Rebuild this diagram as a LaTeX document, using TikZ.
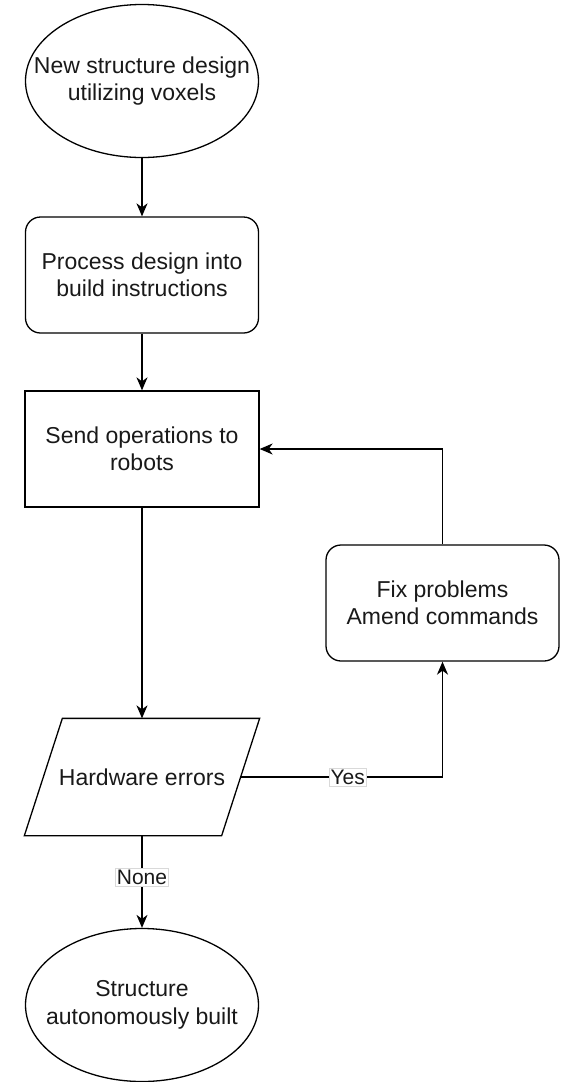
\documentclass[tikz,border=0pt]{standalone}
\usepackage{fontspec}
\setmainfont{Liberation Sans}
\usetikzlibrary{shapes.geometric,arrows.meta}
\begin{document}
\begin{tikzpicture}[x=1pt,y=-1pt,
  base/.style={draw=black, line width=1.3pt, align=center, inner sep=0pt,
    font=\fontsize{23}{27.5}\selectfont, text=black!90},
  txt/.style={align=center, inner sep=0pt, font=\fontsize{23}{27.5}\selectfont, text=black!90},
  term/.style={draw=black, line width=1.3pt, ellipse, inner sep=0pt, minimum width=233pt, minimum height=153pt},
  roundbox/.style={base, rectangle, rounded corners=15pt, minimum width=233pt, minimum height=116pt},
  plainbox/.style={base, rectangle, minimum width=234pt, minimum height=116pt},
  edge/.style={line width=1.3pt},
  conn/.style={edge, -{Stealth[length=13pt,width=11pt,inset=4pt]}},
  lbl/.style={fill=white, draw=black!15, line width=0.6pt, inner sep=1.5pt,
    font=\fontsize{21}{24}\selectfont, text=black!90}]
\useasboundingbox (0,0) rectangle (562,1082);

\node[term] (start) at (142,81) {};
\node[txt] (startT) at (start.center) {New structure design\\utilizing voxels};
\node[roundbox] (proc) at (142,275) {Process design into\\build instructions};
\node[plainbox] (send) at (142,449) {Send operations to\\robots};
\node[roundbox] (fix) at (442.5,603) {Fix problems\\Amend commands};
\node[plainbox, draw=none] (hw) at (142,777) {Hardware errors};
\draw[edge] ([xshift=38pt]hw.north west) -- (hw.north east)
  -- ([xshift=-38pt]hw.south east) -- (hw.south west) -- cycle;
\coordinate (hwE) at ([xshift=-19pt]hw.east);
\node[term] (end) at (142,1005) {};
\node[txt] (endT) at (end.center) {Structure\\autonomously built};

\draw[conn] (start.south) -- (proc.north);
\draw[conn] (proc.south) -- (send.north);
\draw[conn] (send.south) -- (hw.north);
\draw[conn] (hwE) -| node[lbl, pos=0.265] {Yes} (fix.south);
\draw[conn] (fix.north) |- (send.east);
\draw[conn] (hw.south) -- node[lbl, pos=0.45] {None} (end.north);
\end{tikzpicture}
\end{document}
